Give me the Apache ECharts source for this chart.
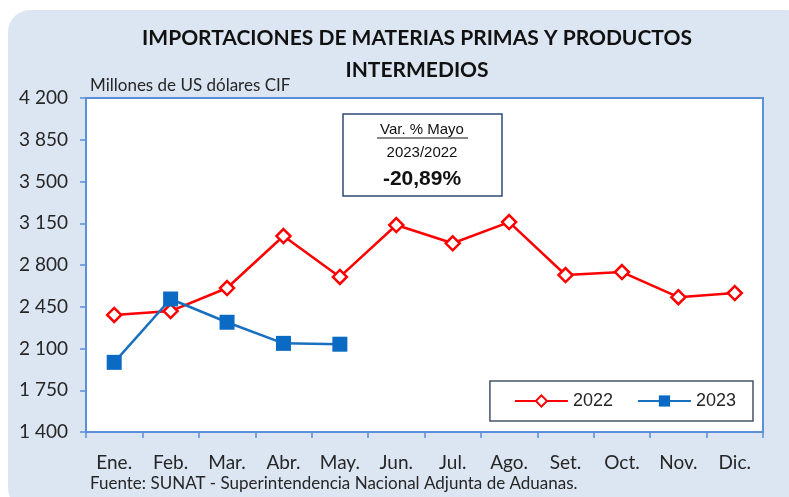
<!DOCTYPE html>
<html>
<head>
<meta charset="utf-8">
<script src="https://cdn.jsdelivr.net/npm/echarts@6/dist/echarts.min.js"></script>
<style>
  html, body { margin: 0; padding: 0; background: #ffffff; }
  #chart { width: 789px; height: 497px; }
</style>
</head>
<body>
<div id="chart"></div>
<script>
// Monthly imports of raw materials and intermediate goods (US$ millions, CIF)
const months = ['Ene.', 'Feb.', 'Mar.', 'Abr.', 'May.', 'Jun.', 'Jul.', 'Ago.', 'Set.', 'Oct.', 'Nov.', 'Dic.'];
const values2022 = [2381, 2414, 2607, 3043, 2700, 3135, 2982, 3160, 2716, 2741, 2530, 2565];
const values2023 = [1984, 2515, 2320, 2143, 2136];
const yMin = 1400, yMax = 4200, yStep = 350;

const titleText = 'IMPORTACIONES DE MATERIAS PRIMAS Y PRODUCTOS\nINTERMEDIOS';
const unitText = 'Millones de US dólares CIF';
const sourceText = 'Fuente: SUNAT - Superintendencia Nacional Adjunta de Aduanas.';
const noteLines = ['Var. % Mayo', '2023/2022', '-20,89%'];

const axisBlue = '#5b8fd9';
const labelFont = 'Lato, "Open Sans", sans-serif';
const boxFont = '"Liberation Sans", Arial, sans-serif';

const chart = echarts.init(document.getElementById('chart'), null, { renderer: 'canvas' });

function spaced(v) {
  return String(v).replace(/\B(?=(\d{3})+(?!\d))/g, ' ');
}

chart.setOption({
  animation: false,
  backgroundColor: '#ffffff',
  grid: {
    left: 86, top: 98, width: 677, height: 334,
    show: true, backgroundColor: '#ffffff',
    borderColor: axisBlue, borderWidth: 2,
    containLabel: false
  },
  xAxis: {
    type: 'category',
    data: months,
    boundaryGap: true,
    axisLine: { show: true, lineStyle: { color: axisBlue, width: 2 } },
    axisTick: { show: true, length: 6, lineStyle: { color: axisBlue, width: 1.5 } },
    axisLabel: { margin: 21, color: '#262626', fontSize: 19, fontFamily: labelFont },
    splitLine: { show: false }
  },
  yAxis: {
    type: 'value',
    min: yMin, max: yMax, interval: yStep,
    axisLine: { show: true, lineStyle: { color: axisBlue, width: 2 } },
    axisTick: { show: true, length: 6, lineStyle: { color: axisBlue, width: 1.5 } },
    axisLabel: { margin: 18, color: '#262626', fontSize: 19, fontFamily: labelFont, formatter: spaced },
    splitLine: { show: false }
  },
  legend: {
    right: 36, top: 381,
    orient: 'horizontal',
    itemWidth: 53, itemHeight: 14, itemGap: 24,
    padding: [11, 17, 11, 24],
    borderColor: '#44546a', borderWidth: 1.5,
    backgroundColor: '#ffffff',
    textStyle: { fontSize: 18, color: '#262626', fontFamily: boxFont },
    data: ['2022', '2023']
  },
  series: [
    {
      name: '2022',
      type: 'line',
      data: values2022,
      symbol: 'diamond',
      symbolSize: 14,
      lineStyle: { color: '#ff0000', width: 2.5 },
      itemStyle: { color: '#ffffff', borderColor: '#ff0000', borderWidth: 2.5 },
      z: 3
    },
    {
      name: '2023',
      type: 'line',
      data: values2023,
      symbol: 'rect',
      symbolSize: 15,
      lineStyle: { color: '#1a70c0', width: 2.5 },
      itemStyle: { color: '#0a6ac4', borderColor: '#0a6ac4', borderWidth: 0 },
      z: 4
    }
  ],
  graphic: [
    {
      type: 'rect', z: -10, silent: true,
      shape: { x: 8, y: 10, width: 800, height: 500, r: 22 },
      style: { fill: '#dce6f2' }
    },
    {
      type: 'text', z: 10,
      style: {
        x: 417, y: 22, text: titleText, textAlign: 'center',
        fontSize: 21, fontWeight: 'bold', lineHeight: 32,
        fontFamily: labelFont, fill: '#111111'
      }
    },
    {
      type: 'text', z: 10,
      style: {
        x: 90, y: 77, text: unitText,
        fontSize: 17, fontFamily: labelFont, fill: '#262626'
      }
    },
    {
      type: 'text', z: 10,
      style: {
        x: 90, y: 475, text: sourceText,
        fontSize: 17, fontFamily: labelFont, fill: '#262626'
      }
    },
    {
      type: 'rect', z: 10,
      shape: { x: 343, y: 114, width: 159, height: 82 },
      style: { fill: '#ffffff', stroke: '#2f4a78', lineWidth: 1.5 }
    },
    {
      type: 'text', z: 11,
      style: {
        x: 422, y: 122, text: noteLines[0], textAlign: 'center',
        fontSize: 15, fontFamily: boxFont, fill: '#111111'
      }
    },
    {
      type: 'line', z: 11,
      shape: { x1: 377, y1: 138, x2: 468, y2: 138 },
      style: { stroke: '#111111', lineWidth: 1 }
    },
    {
      type: 'text', z: 11,
      style: {
        x: 422, y: 145, text: noteLines[1], textAlign: 'center',
        fontSize: 15, fontFamily: boxFont, fill: '#111111'
      }
    },
    {
      type: 'text', z: 11,
      style: {
        x: 422, y: 169, text: noteLines[2], textAlign: 'center',
        fontSize: 21, fontWeight: 'bold', fontFamily: boxFont, fill: '#111111'
      }
    }
  ]
});
</script>
</body>
</html>
